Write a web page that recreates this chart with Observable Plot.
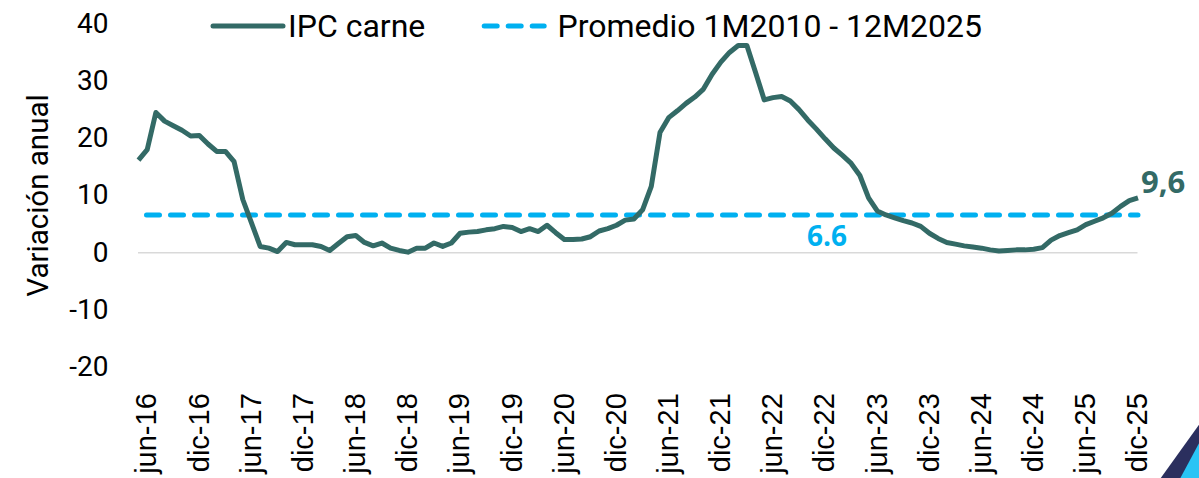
<!DOCTYPE html>
<html>
<head>
<meta charset="utf-8">
<script src="https://cdn.jsdelivr.net/npm/d3@7"></script>
<script src="https://cdn.jsdelivr.net/npm/@observablehq/plot@0.6"></script>
<style>
  body { margin: 0; background: #fff; }
  #wrap { position: relative; width: 1199px; height: 478px; overflow: hidden; background: #fff; }
  #chart { position: absolute; left: 0; top: 0; }
  .leg { position: absolute; font-family: Roboto, sans-serif; font-size: 32px; line-height: 32px; color: #000; white-space: nowrap; }
  .sw { position: absolute; overflow: visible; }
  .deco { position: absolute; }
</style>
</head>
<body>
<div id="wrap">
  <div id="chart"></div>
</div>
<script>
// ---------- data ----------
const meses = [
  "may-16","jun-16","jul-16","ago-16","sep-16","oct-16","nov-16","dic-16",
  "ene-17","feb-17","mar-17","abr-17","may-17","jun-17","jul-17","ago-17","sep-17","oct-17","nov-17","dic-17",
  "ene-18","feb-18","mar-18","abr-18","may-18","jun-18","jul-18","ago-18","sep-18","oct-18","nov-18","dic-18",
  "ene-19","feb-19","mar-19","abr-19","may-19","jun-19","jul-19","ago-19","sep-19","oct-19","nov-19","dic-19",
  "ene-20","feb-20","mar-20","abr-20","may-20","jun-20","jul-20","ago-20","sep-20","oct-20","nov-20","dic-20",
  "ene-21","feb-21","mar-21","abr-21","may-21","jun-21","jul-21","ago-21","sep-21","oct-21","nov-21","dic-21",
  "ene-22","feb-22","mar-22","abr-22","may-22","jun-22","jul-22","ago-22","sep-22","oct-22","nov-22","dic-22",
  "ene-23","feb-23","mar-23","abr-23","may-23","jun-23","jul-23","ago-23","sep-23","oct-23","nov-23","dic-23",
  "ene-24","feb-24","mar-24","abr-24","may-24","jun-24","jul-24","ago-24","sep-24","oct-24","nov-24","dic-24",
  "ene-25","feb-25","mar-25","abr-25","may-25","jun-25","jul-25","ago-25","sep-25","oct-25","nov-25","dic-25"
];
const ipcCarne = [
  16.2, 18.0, 24.5, 23.0, 22.2, 21.4, 20.4, 20.5,
  19.0, 17.7, 17.7, 15.9, 9.3, 5.2, 1.1, 0.8, 0.2, 1.8, 1.4, 1.4,
  1.4, 1.1, 0.4, 1.6, 2.8, 3.0, 1.8, 1.2, 1.7, 0.8, 0.4, 0.1,
  0.8, 0.8, 1.7, 1.1, 1.7, 3.4, 3.6, 3.7, 4.0, 4.2, 4.6, 4.4,
  3.7, 4.2, 3.7, 4.8, 3.5, 2.3, 2.3, 2.4, 2.8, 3.8, 4.2, 4.8,
  5.7, 5.9, 7.5, 11.6, 21.0, 23.6, 24.8, 26.1, 27.2, 28.6, 31.2, 33.3,
  35.0, 36.2, 36.2, 31.5, 26.7, 27.1, 27.3, 26.5, 25.0, 23.2, 21.6, 19.9,
  18.3, 17.0, 15.6, 13.5, 9.6, 7.3, 6.6, 6.1, 5.6, 5.2, 4.6, 3.4,
  2.5, 1.8, 1.5, 1.2, 1.0, 0.8, 0.5, 0.3, 0.4, 0.5, 0.5, 0.6,
  0.9, 2.2, 3.0, 3.5, 4.0, 4.9, 5.5, 6.1, 6.9, 8.1, 9.1, 9.6
];
const promedio = 6.6;
const promedioEtiquetaMes = "dic-22";
const etiquetasX = [
  "jun-16","dic-16","jun-17","dic-17","jun-18","dic-18","jun-19","dic-19","jun-20","dic-20",
  "jun-21","dic-21","jun-22","dic-22","jun-23","dic-23","jun-24","dic-24","jun-25","dic-25"
];
const ticksY = [-20, -10, 0, 10, 20, 30, 40];
const nombresSeries = ["IPC carne", "Promedio 1M2010 - 12M2025"];
const tituloY = "Variación anual";

// ---------- styles ----------
const colorCarne = "#336a66";
const colorProm = "#00b0f0";

const datos = meses.map((m, i) => ({mes: m, valor: ipcCarne[i]}));
const ultimo = datos[datos.length - 1];

const chart = Plot.plot({
  width: 1199,
  height: 478,
  marginLeft: 138,
  marginRight: 61.5,
  marginTop: 23.3,
  marginBottom: 111.3,
  style: {background: "transparent", overflow: "visible"},
  x: {type: "point", domain: meses, padding: 0},
  y: {domain: [-20, 40]},
  marks: [
    Plot.ruleY([0], {stroke: "#d9d9d9", strokeWidth: 1.5}),
    Plot.line(meses, {x: d => d, y: () => promedio, stroke: colorProm, strokeWidth: 5,
      strokeDasharray: "13,11", strokeDashoffset: 16, strokeLinecap: "round"}),
    Plot.line(datos, {x: "mes", y: "valor", stroke: colorCarne, strokeWidth: 5,
      strokeLinejoin: "round", strokeLinecap: "butt"}),
    Plot.text([ultimo], {x: "mes", y: "valor", text: d => String(d.valor).replace(".", ","),
      textAnchor: "start", dx: 3, dy: -15, fontSize: 31, fontWeight: "bold",
      fontFamily: "'Open Sans', sans-serif", fill: colorCarne}),
    Plot.text([{mes: promedioEtiquetaMes, valor: promedio}], {x: "mes", y: "valor",
      text: d => d.valor.toFixed(1), dx: 2, dy: 22, fontSize: 28, fontWeight: "bold",
      fontFamily: "'Open Sans', sans-serif", fill: colorProm}),
    Plot.axisY({ticks: ticksY, tickFormat: d => String(d), tickSize: 0, tickPadding: 30, fontSize: 28,
      fontFamily: "Roboto, sans-serif", label: null, color: "#000"}),
    Plot.axisY({ticks: [], label: tituloY, labelAnchor: "center", labelOffset: 111,
      labelArrow: "none", fontSize: 29.5, fontFamily: "Roboto, sans-serif", color: "#000"}),
    Plot.axisX({ticks: etiquetasX, tickSize: 0, tickPadding: 26, tickRotate: -90,
      fontSize: 29, fontFamily: "'Liberation Sans', Arial, sans-serif", label: null, color: "#000"})
  ]
});
document.getElementById("chart").appendChild(chart);

// ---------- legend (overlaid at top, as in the reference) ----------
const wrap = document.getElementById("wrap");
const ns = "http://www.w3.org/2000/svg";
function swatch(left, dashed, color) {
  const s = document.createElementNS(ns, "svg");
  s.setAttribute("class", "sw");
  s.setAttribute("width", 80); s.setAttribute("height", 20);
  s.style.left = left + "px"; s.style.top = "16px";
  const l = document.createElementNS(ns, "line");
  l.setAttribute("x1", dashed ? 8.2 : 5); l.setAttribute("x2", dashed ? 68.2 : 75);
  l.setAttribute("y1", 10); l.setAttribute("y2", 10);
  l.setAttribute("stroke", color); l.setAttribute("stroke-width", 5);
  l.setAttribute("stroke-linecap", "round");
  if (dashed) l.setAttribute("stroke-dasharray", "13,11");
  s.appendChild(l);
  wrap.appendChild(s);
}
function label(left, txt) {
  const d = document.createElement("div");
  d.className = "leg"; d.style.left = left + "px"; d.style.top = "9.8px";
  d.textContent = txt;
  wrap.appendChild(d);
}
swatch(208, false, colorCarne);
label(288, nombresSeries[0]);
swatch(476, true, colorProm);
label(557.5, nombresSeries[1]);

// ---------- corner decoration ----------
const d1 = document.createElement("div");
d1.className = "deco";
Object.assign(d1.style, {left: "1150px", top: "420px", width: "49px", height: "58px",
  background: "#2b2f5e", clipPath: "polygon(100% 8%, 100% 100%, 22% 100%)"});
wrap.appendChild(d1);
const d2 = document.createElement("div");
d2.className = "deco";
Object.assign(d2.style, {left: "1150px", top: "420px", width: "49px", height: "58px",
  background: "#29c4f5", clipPath: "polygon(100% 40%, 100% 100%, 62% 100%)"});
wrap.appendChild(d2);
</script>
</body>
</html>
